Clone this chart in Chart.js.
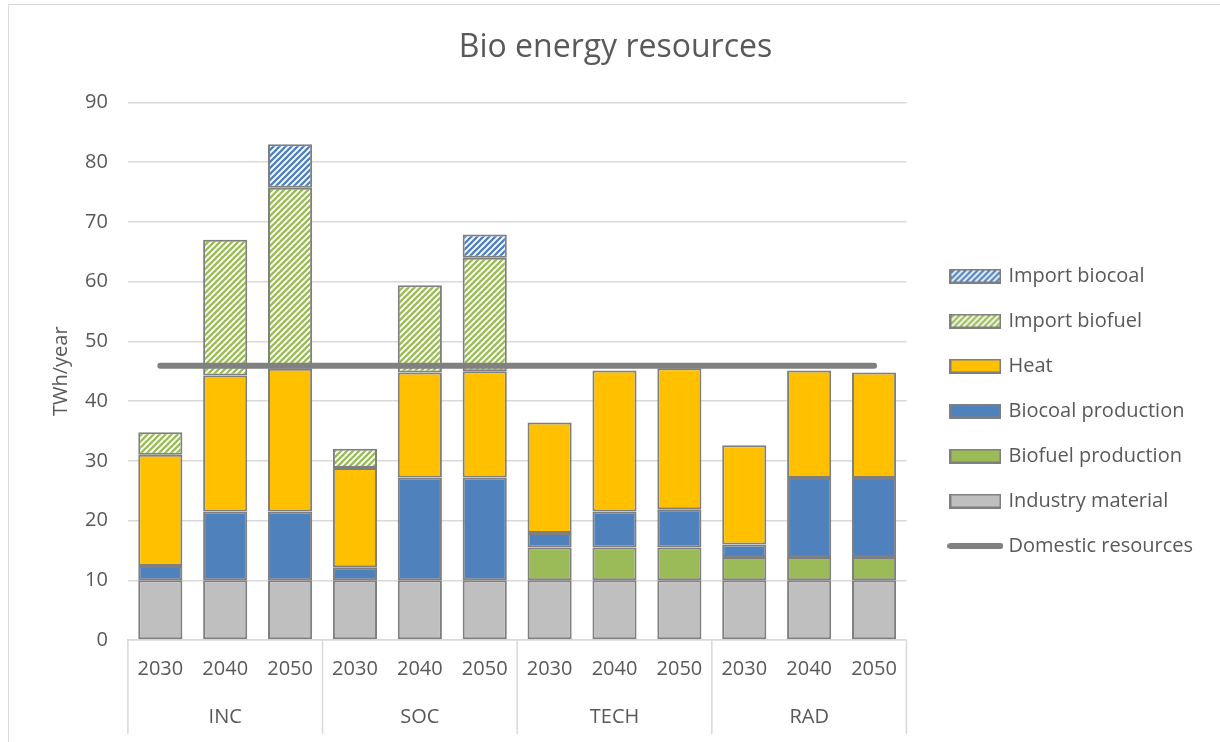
<!DOCTYPE html>
<html><head><meta charset="utf-8">
<script src="https://cdn.jsdelivr.net/npm/chart.js@4.4.1/dist/chart.umd.min.js"></script>
<style>
html,body{margin:0;padding:0;background:#fff;overflow:hidden;}
#frame{position:absolute;left:8px;top:4px;width:1400px;height:1000px;border-left:1.5px solid #d9d9d9;border-top:1.5px solid #d9d9d9;}
#c{position:absolute;left:0;top:0;}
</style></head><body>
<div id="frame"></div>
<canvas id="c" width="1220" height="742"></canvas>
<script>
// ---- data ----
const groups = ['INC', 'SOC', 'TECH', 'RAD'];
const years = ['2030', '2040', '2050'];
const categories = ['2030','2040','2050','2030','2040','2050','2030','2040','2050','2030','2040','2050'];
const industryMaterial  = [10, 10, 10, 10, 10, 10, 10, 10, 10, 10, 10, 10];
const biofuelProduction = [null, null, null, null, null, null, 5.5, 5.5, 5.5, 3.9, 3.9, 3.9];
const biocoalProduction = [2.4, 11.5, 11.5, 2.2, 17.2, 17.2, 2.4, 6.0, 6.4, 2.1, 13.2, 13.2];
const heat              = [18.6, 22.8, 23.9, 16.6, 17.6, 17.8, 18.5, 23.6, 23.6, 16.6, 18.0, 17.7];
const importBiofuel     = [3.8, 22.7, 30.3, 3.2, 14.6, 19.0, null, null, null, null, null, null];
const importBiocoal     = [null, null, 7.3, null, null, 3.9, null, null, null, null, null, null];
const domesticResources = [45.9, 45.9, 45.9, 45.9, 45.9, 45.9, 45.9, 45.9, 45.9, 45.9, 45.9, 45.9];
const yTicks = {min: 0, max: 90, step: 10};

// ---- styles ----
const FONT = "'Open Sans', 'DejaVu Sans', sans-serif";
const TXT = '#595959';
const GRID = '#d9d9d9';
const EDGE = '#7f7f7f';
const C_IND = '#bfbfbf', C_BF = '#9bbb59', C_BC = '#4f81bd', C_HEAT = '#ffc000', C_LINE = '#808080';

function stripe(color) {
  const s = 6;
  const cv = document.createElement('canvas');
  cv.width = s; cv.height = s;
  const g = cv.getContext('2d');
  g.fillStyle = '#ffffff'; g.fillRect(0, 0, s, s);
  g.strokeStyle = color; g.lineWidth = 2.3; g.lineCap = 'square';
  g.beginPath();
  g.moveTo(0, s); g.lineTo(s, 0);
  g.moveTo(-1, 1); g.lineTo(1, -1);
  g.moveTo(s - 1, s + 1); g.lineTo(s + 1, s - 1);
  g.stroke();
  return g.createPattern(cv, 'repeat');
}
const P_BF = stripe(C_BF);
const P_BC = stripe(C_BC);

function boxImg(fill) {
  const cv = document.createElement('canvas');
  cv.width = 52; cv.height = 15;
  const g = cv.getContext('2d');
  g.fillStyle = fill; g.fillRect(1, 1, 50, 13);
  g.strokeStyle = EDGE; g.lineWidth = 2; g.strokeRect(1, 1, 50, 13);
  return cv;
}
function lineImg() {
  const cv = document.createElement('canvas');
  cv.width = 56; cv.height = 8;
  const g = cv.getContext('2d');
  g.strokeStyle = C_LINE; g.lineWidth = 6; g.lineCap = 'round';
  g.beginPath(); g.moveTo(3, 4); g.lineTo(53, 4); g.stroke();
  return cv;
}
const legendImgs = [lineImg(), boxImg(C_IND), boxImg(C_BF), boxImg(C_BC), boxImg(C_HEAT), boxImg(P_BF), boxImg(P_BC)];

const barBase = {type: 'bar', borderColor: EDGE, borderWidth: 2, borderSkipped: false, categoryPercentage: 1, barPercentage: 0.68, stack: 'bio'};

const separators = {
  id: 'groupSeparators',
  afterDraw(chart) {
    const xs = chart.scales.x, x2 = chart.scales.x2, ctx = chart.ctx;
    const n = categories.length, per = n / groups.length;
    const half = (xs.getPixelForTick(1) - xs.getPixelForTick(0)) / 2;
    ctx.save();
    ctx.strokeStyle = GRID; ctx.lineWidth = 1.5;
    for (let g = 0; g <= groups.length; g++) {
      const px = g < groups.length ? xs.getPixelForTick(g * per) - half : xs.getPixelForTick(n - 1) + half;
      ctx.beginPath(); ctx.moveTo(px, xs.top); ctx.lineTo(px, x2.bottom - 2); ctx.stroke();
    }
    ctx.restore();
  },
  afterLayout(chart) {
    const lg = chart.legend;
    lg.left += 21; lg.right += 21;
    lg.top += 43; lg.bottom += 43;
  }
};

Chart.defaults.font.family = FONT;
Chart.defaults.color = TXT;

new Chart(document.getElementById('c'), {
  data: {
    labels: categories,
    datasets: [
      {type: 'line', label: 'Domestic resources', data: domesticResources, borderColor: C_LINE, borderWidth: 6, borderCapStyle: 'round', pointRadius: 0, stack: 'dom', fill: false},
      Object.assign({}, barBase, {label: 'Industry material', data: industryMaterial, backgroundColor: C_IND}),
      Object.assign({}, barBase, {label: 'Biofuel production', data: biofuelProduction, backgroundColor: C_BF}),
      Object.assign({}, barBase, {label: 'Biocoal production', data: biocoalProduction, backgroundColor: C_BC}),
      Object.assign({}, barBase, {label: 'Heat', data: heat, backgroundColor: C_HEAT}),
      Object.assign({}, barBase, {label: 'Import biofuel', data: importBiofuel, backgroundColor: P_BF}),
      Object.assign({}, barBase, {label: 'Import biocoal', data: importBiocoal, backgroundColor: P_BC})
    ]
  },
  options: {
    responsive: false,
    animation: false,
    devicePixelRatio: 1,
    layout: {padding: {left: 49, right: 38, top: 0, bottom: 6}},
    scales: {
      x: {
        type: 'category', position: 'bottom', offset: true,
        grid: {display: false, drawTicks: false},
        border: {display: true, color: GRID, width: 1.5},
        ticks: {color: TXT, font: {size: 20}, padding: 17, maxRotation: 0, autoSkip: false}
      },
      x2: {
        type: 'category', position: 'bottom', offset: true, weight: 1,
        labels: groups,
        grid: {display: false, drawTicks: false},
        border: {display: false},
        ticks: {color: TXT, font: {size: 20}, padding: 7, maxRotation: 0, autoSkip: false}
      },
      y: {
        stacked: true, min: yTicks.min, max: yTicks.max,
        grid: {color: GRID, lineWidth: 1.5, drawTicks: false},
        border: {display: false},
        ticks: {stepSize: yTicks.step, color: TXT, font: {size: 20}, padding: 20},
        title: {display: true, text: 'TWh/year', color: TXT, font: {size: 20}, padding: {top: 0, bottom: -8}}
      }
    },
    plugins: {
      title: {display: true, text: 'Bio energy resources', color: TXT, font: {size: 32, weight: 'normal'}, padding: {top: 29, bottom: 35}},
      tooltip: {enabled: false},
      legend: {
        position: 'right', reverse: true,
        labels: {
          usePointStyle: true, pointStyleWidth: 46, padding: 25,
          color: TXT, font: {size: 20},
          generateLabels(chart) {
            const items = Chart.defaults.plugins.legend.labels.generateLabels(chart);
            items.forEach(it => { it.pointStyle = legendImgs[it.datasetIndex]; it.fontColor = TXT; });
            return items;
          }
        }
      }
    }
  },
  plugins: [separators]
});
</script>
</body></html>
